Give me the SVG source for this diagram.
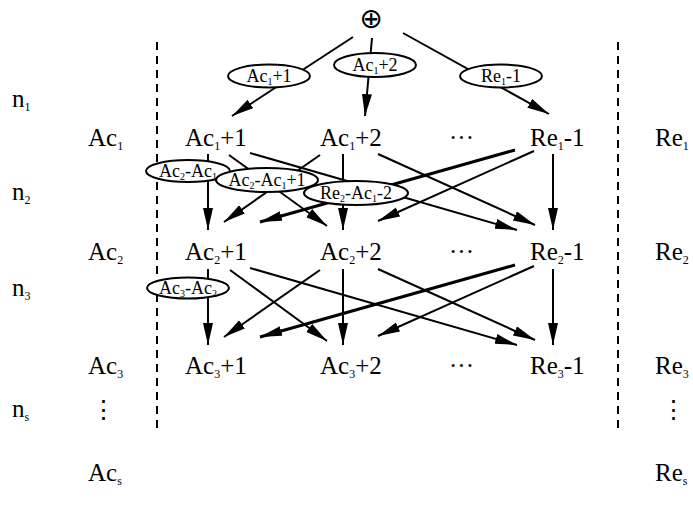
<svg xmlns="http://www.w3.org/2000/svg" width="693" height="509" viewBox="0 0 693 509">
<style>
text{font-family:"Liberation Serif","Times New Roman",serif;fill:#000}
.big{font-size:25px}
.lab{font-size:18px;text-anchor:middle}
.sub{font-size:12px}
.ssub{font-size:10px}
.e{fill:#fff;stroke:#000;stroke-width:2}
.c line{stroke:#000;stroke-width:2;marker-end:url(#ah)}
.c line.t{stroke-width:3}
.d{stroke:#000;stroke-width:2;stroke-dasharray:8 6}
</style>
<defs>
<marker id="ah" markerUnits="userSpaceOnUse" markerWidth="24" markerHeight="12" refX="22" refY="5" orient="auto">
<path d="M0,0 L22,5 L0,10 Z" fill="#000"/>
</marker>
</defs>
<rect width="693" height="509" fill="#fff"/>
<line class="d" x1="157" y1="42" x2="157" y2="432"/>
<line class="d" x1="618" y1="42" x2="618" y2="432"/>
<g id="side-labels" class="big">
<text x="12" y="107">n<tspan class="sub" dy="4">1</tspan></text>
<text x="12" y="200">n<tspan class="sub" dy="4">2</tspan></text>
<text x="12" y="296">n<tspan class="sub" dy="4">3</tspan></text>
<text x="12" y="417">n<tspan class="sub" dy="4">s</tspan></text>
<text x="88" y="146">Ac<tspan class="sub" dy="4">1</tspan></text>
<text x="88" y="260">Ac<tspan class="sub" dy="4">2</tspan></text>
<text x="88" y="374">Ac<tspan class="sub" dy="4">3</tspan></text>
<text x="91" y="418">⋮</text>
<text x="88" y="481">Ac<tspan class="sub" dy="4">s</tspan></text>
<text x="655" y="146">Re<tspan class="sub" dy="4">1</tspan></text>
<text x="655" y="260">Re<tspan class="sub" dy="4">2</tspan></text>
<text x="655" y="374">Re<tspan class="sub" dy="4">3</tspan></text>
<text x="661" y="418">⋮</text>
<text x="655" y="481">Re<tspan class="sub" dy="4">s</tspan></text>
</g>
<g id="root"><text x="371" y="28" style="font-family:'DejaVu Sans',sans-serif;font-size:28px" text-anchor="middle">⊕</text></g>
<g class="c" id="connectors">
<line x1="353" y1="37" x2="232" y2="116"/>
<line x1="372" y1="38" x2="365" y2="116"/>
<line x1="403" y1="33" x2="549" y2="114"/>
<line x1="208" y1="154" x2="208" y2="230"/>
<line x1="343" y1="154" x2="343" y2="230"/>
<line x1="553" y1="154" x2="553" y2="230"/>
<line x1="229" y1="155" x2="327" y2="226"/>
<line x1="250" y1="153" x2="517" y2="230"/>
<line x1="320" y1="155" x2="224" y2="222"/>
<line x1="378" y1="154" x2="535" y2="225"/>
<line class="t" x1="515" y1="150" x2="260" y2="222"/>
<line x1="534" y1="151" x2="378" y2="221"/>
<line x1="208" y1="269" x2="208" y2="345"/>
<line x1="343" y1="269" x2="343" y2="345"/>
<line x1="553" y1="269" x2="553" y2="345"/>
<line x1="230" y1="270" x2="327" y2="341"/>
<line x1="250" y1="268" x2="517" y2="345"/>
<line x1="320" y1="270" x2="224" y2="337"/>
<line x1="378" y1="269" x2="535" y2="340"/>
<line class="t" x1="515" y1="265" x2="260" y2="337"/>
<line x1="534" y1="266" x2="378" y2="336"/>
</g>
<g id="edge-labels">
<g id="l-ac1p1"><ellipse class="e" cx="269" cy="76" rx="41" ry="11.5"/><text class="lab" x="269" y="82">Ac<tspan class="ssub" dy="3">1</tspan><tspan dy="-3">+1</tspan></text></g>
<g id="l-ac1p2"><ellipse class="e" cx="375" cy="65" rx="41" ry="12"/><text class="lab" x="375" y="71">Ac<tspan class="ssub" dy="3">1</tspan><tspan dy="-3">+2</tspan></text></g>
<g id="l-re1m1"><ellipse class="e" cx="501" cy="76" rx="41" ry="11.5"/><text class="lab" x="501" y="82">Re<tspan class="ssub" dy="3">1</tspan><tspan dy="-3">-1</tspan></text></g>
<g id="l-ac2ac1"><ellipse class="e" cx="188" cy="171" rx="42" ry="11"/><text class="lab" x="188" y="177">Ac<tspan class="ssub" dy="3">2</tspan><tspan dy="-3">-Ac</tspan><tspan class="ssub" dy="3">1</tspan></text></g>
<g id="l-ac2ac1p1"><ellipse class="e" cx="267" cy="180" rx="51" ry="12"/><text class="lab" x="267" y="186">Ac<tspan class="ssub" dy="3">2</tspan><tspan dy="-3">-Ac</tspan><tspan class="ssub" dy="3">1</tspan><tspan dy="-3">+1</tspan></text></g>
<g id="l-re2ac1m2"><ellipse class="e" cx="356" cy="193" rx="52" ry="12"/><text class="lab" x="356" y="199">Re<tspan class="ssub" dy="3">2</tspan><tspan dy="-3">-Ac</tspan><tspan class="ssub" dy="3">1</tspan><tspan dy="-3">-2</tspan></text></g>
<g id="l-ac3ac2"><ellipse class="e" cx="188" cy="288" rx="41" ry="10.5"/><text class="lab" x="188" y="294">Ac<tspan class="ssub" dy="3">3</tspan><tspan dy="-3">-Ac</tspan><tspan class="ssub" dy="3">2</tspan></text></g>
</g>
<g id="n-ac1p1" class="big"><text x="185" y="146">Ac<tspan class="sub" dy="4">1</tspan><tspan dy="-4">+1</tspan></text></g>
<g id="n-ac1p2" class="big"><text x="320" y="146">Ac<tspan class="sub" dy="4">1</tspan><tspan dy="-4">+2</tspan></text></g>
<g id="n-dots1" class="big"><text x="449" y="146">···</text></g>
<g id="n-re1m1" class="big"><text x="530" y="146">Re<tspan class="sub" dy="4">1</tspan><tspan dy="-4">-1</tspan></text></g>
<g id="n-ac2p1" class="big"><text x="185" y="260">Ac<tspan class="sub" dy="4">2</tspan><tspan dy="-4">+1</tspan></text></g>
<g id="n-ac2p2" class="big"><text x="320" y="260">Ac<tspan class="sub" dy="4">2</tspan><tspan dy="-4">+2</tspan></text></g>
<g id="n-dots2" class="big"><text x="449" y="260">···</text></g>
<g id="n-re2m1" class="big"><text x="530" y="260">Re<tspan class="sub" dy="4">2</tspan><tspan dy="-4">-1</tspan></text></g>
<g id="n-ac3p1" class="big"><text x="185" y="374">Ac<tspan class="sub" dy="4">3</tspan><tspan dy="-4">+1</tspan></text></g>
<g id="n-ac3p2" class="big"><text x="320" y="374">Ac<tspan class="sub" dy="4">3</tspan><tspan dy="-4">+2</tspan></text></g>
<g id="n-dots3" class="big"><text x="449" y="374">···</text></g>
<g id="n-re3m1" class="big"><text x="530" y="374">Re<tspan class="sub" dy="4">3</tspan><tspan dy="-4">-1</tspan></text></g>
</svg>
